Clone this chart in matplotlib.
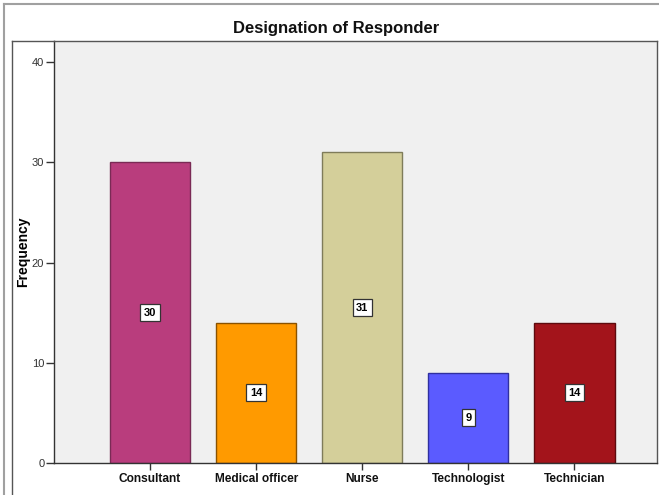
import matplotlib
matplotlib.use("Agg")
import matplotlib.pyplot as plt
from matplotlib.lines import Line2D

categories = ["Consultant", "Medical officer", "Nurse", "Technologist", "Technician"]
frequencies = [30, 14, 31, 9, 14]
bar_colors = ["#B93D7D", "#FF9A00", "#D4CF9A", "#5B5BFF", "#A3141B"]
edge_colors = ["#7A2A55", "#8A5200", "#7F7C5A", "#3030A0", "#5E0A0E"]
y_ticks = [0, 10, 20, 30, 40]

plt.rcParams['font.family'] = ['Liberation Sans', 'DejaVu Sans']

W, H = 659, 495
fig = plt.figure(figsize=(W / 100, H / 100), dpi=100)
fig.patch.set_facecolor("white")

L, R, T, B = 54, 657, 41, 463
ax = fig.add_axes([L / W, 1 - B / H, (R - L) / W, (B - T) / H])
ax.set_facecolor("#F0F0F0")

x = list(range(len(categories)))
ax.bar(x, frequencies, width=0.755, color=bar_colors, edgecolor=edge_colors, linewidth=1.0, zorder=2)

for xi, v in zip(x, frequencies):
    ax.text(xi, v / 2, str(v), ha="center", va="center", fontsize=8, fontweight="bold",
            color="black", zorder=3,
            bbox=dict(boxstyle="square,pad=0.32", facecolor="white", edgecolor="#333333", linewidth=0.9))

ax.set_xlim(-0.905, 4.778)
ax.set_ylim(0, 42.1)
ax.set_yticks(y_ticks)
ax.set_yticklabels([str(t) for t in y_ticks], fontsize=8, color="#333333")
ax.set_xticks(x)
ax.set_xticklabels(categories, fontsize=8.6, fontweight="bold", color="#111111")
ax.tick_params(axis="y", direction="out", length=6, width=1, color="#333333", pad=1)
ax.tick_params(axis="x", direction="out", length=5, width=1, color="#333333", pad=2)

for s in ["left", "bottom"]:
    ax.spines[s].set_color("#333333")
    ax.spines[s].set_linewidth(1.0)
for s in ["top", "right"]:
    ax.spines[s].set_color("#555555")
    ax.spines[s].set_linewidth(1.0)

ax.set_ylabel("Frequency", fontsize=10, fontweight="bold")
ax.yaxis.set_label_coords((30 - L) / (R - L), 0.5)

fig.text(336 / W, 1 - 33 / H, "Designation of Responder", ha="center", va="baseline",
         fontsize=12, fontweight="bold", color="#111111")

# outer frame lines
fig.add_artist(Line2D([4 / W, 4 / W], [0, 1 - 4 / H], transform=fig.transFigure, color="#A0A0A0", lw=1.5))
fig.add_artist(Line2D([4 / W, 1], [1 - 4 / H, 1 - 4 / H], transform=fig.transFigure, color="#A0A0A0", lw=1.5))
fig.add_artist(Line2D([12 / W, 12 / W], [0, 1 - 41 / H], transform=fig.transFigure, color="#555555", lw=1.0))
fig.add_artist(Line2D([12 / W, L / W], [1 - 41 / H, 1 - 41 / H], transform=fig.transFigure, color="#555555", lw=1.0))

fig.savefig("out.png", dpi=100)
